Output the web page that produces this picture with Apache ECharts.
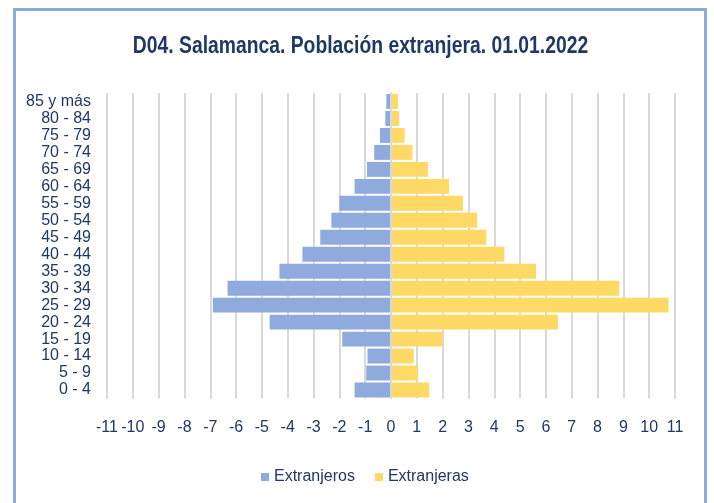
<!DOCTYPE html>
<html>
<head>
<meta charset="utf-8">
<script src="https://cdn.jsdelivr.net/npm/echarts@6/dist/echarts.min.js"></script>
<style>
html,body{margin:0;padding:0;background:#fff;}
#chart{width:714px;height:503px;}
</style>
</head>
<body>
<div id="chart"></div>
<script>
const title = 'D04. Salamanca. Población extranjera. 01.01.2022';
const categories = ['0 - 4','5 - 9','10 - 14','15 - 19','20 - 24','25 - 29','30 - 34','35 - 39','40 - 44','45 - 49','50 - 54','55 - 59','60 - 64','65 - 69','70 - 74','75 - 79','80 - 84','85 y más'];
const extranjeros = [-1.41,-0.96,-0.91,-1.89,-4.7,-6.9,-6.33,-4.32,-3.43,-2.74,-2.31,-2.0,-1.41,-0.93,-0.65,-0.43,-0.22,-0.18];
const extranjeras = [1.48,1.05,0.88,1.99,6.47,10.75,8.84,5.62,4.39,3.69,3.34,2.79,2.25,1.43,0.83,0.53,0.32,0.27];
const seriesNames = ['Extranjeros','Extranjeras'];
const colors = ['#8faadc','#ffd966'];
const textColor = '#1f3864';
const font = '"Liberation Sans", Arial, sans-serif';

const chart = echarts.init(document.getElementById('chart'), null, {renderer:'canvas'});
chart.setOption({
  animation:false,
  backgroundColor:'#fff',
  textStyle:{fontFamily:font},
  graphic:[
    {
      type:'rect', z:100, silent:true,
      shape:{x:14.5, y:9.5, width:691, height:520},
      style:{fill:'none', stroke:'#8eaadb', lineWidth:3}
    },
    {
      type:'text', z:100, silent:true,
      x:360.5, y:46.5, scaleX:0.84,
      style:{
        text:title, fill:textColor,
        font:'bold 23px "Liberation Sans", Arial, sans-serif',
        textAlign:'center', textVerticalAlign:'middle'
      }
    }
  ],
  legend:{
    data:seriesNames, bottom:13, left:256,
    icon:'rect', itemWidth:8, itemHeight:8, itemGap:20,
    textStyle:{fontFamily:font, fontSize:16, color:textColor}
  },
  grid:{left:107, right:39, top:93, bottom:104.5, containLabel:false},
  xAxis:{
    type:'value', min:-11, max:11, interval:1,
    axisLine:{show:false}, axisTick:{show:false},
    axisLabel:{fontFamily:font, fontSize:16, color:textColor, margin:21},
    splitLine:{show:true, lineStyle:{color:'#d9d9d9', width:2}}
  },
  yAxis:{
    type:'category', data:categories, z:5,
    axisLine:{show:true, onZero:true, lineStyle:{color:'#d9d9d9', width:2}},
    axisTick:{show:false},
    axisLabel:{fontFamily:font, fontSize:16, color:textColor, margin:16, interval:0}
  },
  series:[
    {name:seriesNames[0], type:'bar', data:extranjeros, barGap:'-100%', barCategoryGap:'12%', itemStyle:{color:colors[0]}},
    {name:seriesNames[1], type:'bar', data:extranjeras, barGap:'-100%', barCategoryGap:'12%', itemStyle:{color:colors[1]}}
  ]
});
</script>
</body>
</html>
